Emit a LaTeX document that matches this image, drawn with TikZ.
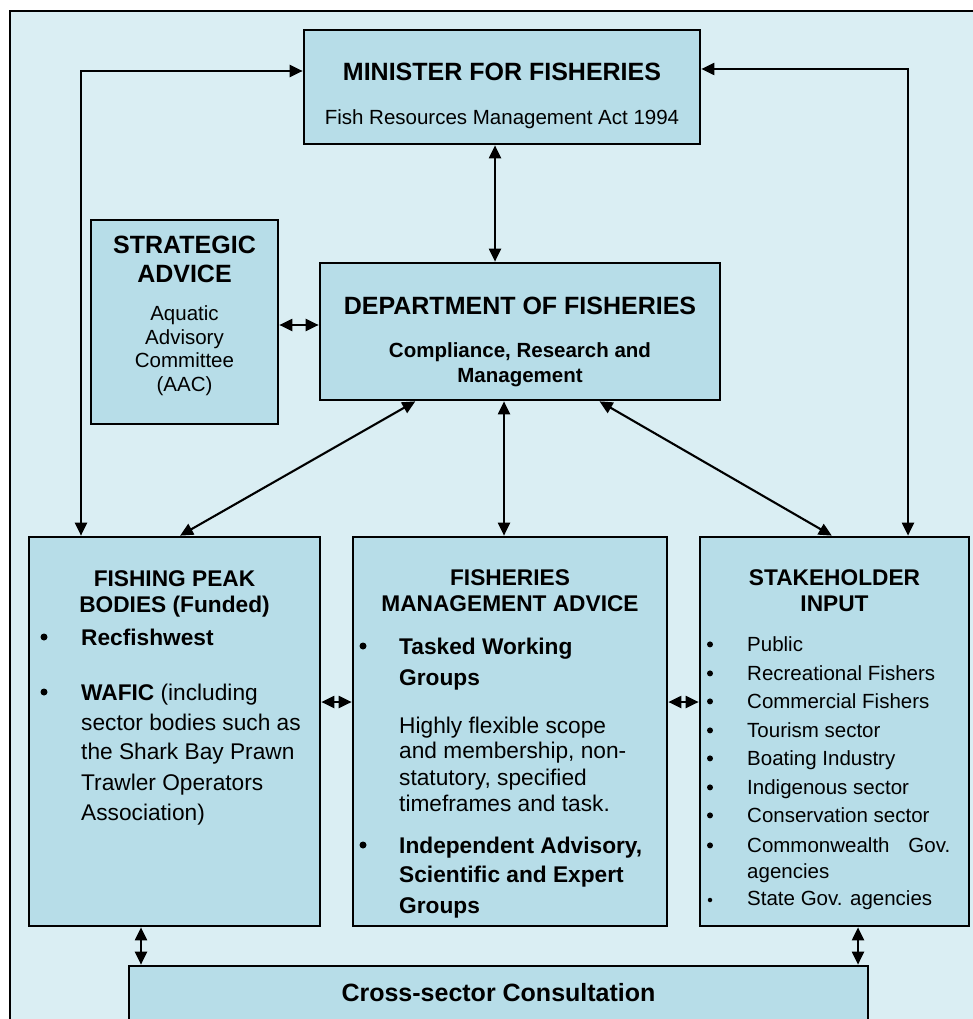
\documentclass[tikz,border=0pt]{standalone}
\usepackage{fontspec}
\setmainfont{Liberation Sans}
\usetikzlibrary{arrows.meta,calc}
\definecolor{bgc}{HTML}{DAEEF3}
\definecolor{boxc}{HTML}{B7DDE8}
\newcommand\ftitle{\fontsize{25}{30}\selectfont\bfseries}
\newcommand\fhead{\fontsize{22.7}{28}\selectfont\bfseries}
\newcommand\fbig{\fontsize{22.7}{28}\selectfont}
\newcommand\fsmall{\fontsize{20.5}{25}\selectfont}
\begin{document}
\begin{tikzpicture}[x=1pt,y=-1pt,
  box/.style={draw=black, line width=2.7pt, fill=boxc, inner sep=0pt, rectangle},
  ct/.style={inner sep=0pt, anchor=base},
  lt/.style={inner sep=0pt, anchor=base west},
  bulb/.style={circle, fill=black, inner sep=0pt, minimum size=7pt},
  buls/.style={circle, fill=black, inner sep=0pt, minimum size=6pt},
  arr/.style={line width=2.1pt, {Triangle[length=13pt,width=12pt]}-{Triangle[length=13pt,width=12pt]}},
]
\useasboundingbox (0,0) rectangle (973,1019);
\clip (0,0) rectangle (973,1019);
\fill[white] (0,0) rectangle (973,1019);
\draw[line width=2.6pt, fill=bgc] (10,11) rectangle (1000,1050);

% boxes
\node[box, minimum width=396pt, minimum height=114pt] (min) at (502,87) {};
\node[box, minimum width=400pt, minimum height=137pt] (dept) at (520,331.5) {};
\node[box, minimum width=187pt, minimum height=204pt] (strat) at (184.5,322) {};
\node[box, minimum width=291pt, minimum height=389pt] (fish) at (174.5,731.5) {};
\node[box, minimum width=314pt, minimum height=389pt] (fma) at (510,731.5) {};
\node[box, minimum width=269pt, minimum height=389pt] (stake) at (834.5,731.5) {};
\node[box, minimum width=739pt, minimum height=94pt] (cross) at (498.5,1013) {};

% minister text
\node[ct, font=\ftitle] (m1) at (502,81) {MINISTER FOR FISHERIES};
\node[ct, font=\fsmall] (m2) at (502,124.4) {Fish Resources Management Act 1994};

% department text
\node[ct, font=\ftitle] (d1) at (520,314) {DEPARTMENT OF FISHERIES};
\node[ct, font=\fsmall\bfseries] (d2) at (520,357.4) {Compliance, Research and};
\node[ct, font=\fsmall\bfseries] (d3) at (520,382.4) {Management};

% strategic text
\node[ct, font=\ftitle] (s1) at (184.5,253) {STRATEGIC};
\node[ct, font=\ftitle] (s2) at (184.5,282) {ADVICE};
\node[ct, font=\fsmall] (s3) at (184.5,320.4) {Aquatic};
\node[ct, font=\fsmall] (s4) at (184.5,344.4) {Advisory};
\node[ct, font=\fsmall] (s5) at (184.5,367.4) {Committee};
\node[ct, font=\fsmall] (s6) at (184.5,391.4) {(AAC)};

% fishing peak bodies
\node[ct, font=\fhead] (f1) at (174.5,586.2) {FISHING PEAK};
\node[ct, font=\fhead] (f2) at (174.5,612.2) {BODIES (Funded)};
\node[bulb] (fb1) at (44,637) {};
\node[lt, font=\fhead] (f3) at (81,645.2) {Recfishwest};
\node[bulb] (fb2) at (44,692) {};
\node[lt, font=\fbig] (f4) at (81,700.2) {\textbf{WAFIC} (including};
\node[lt, font=\fbig] (f5) at (81,730.2) {sector bodies such as};
\node[lt, font=\fbig] (f6) at (81,759.2) {the Shark Bay Prawn};
\node[lt, font=\fbig] (f7) at (81,790.2) {Trawler Operators};
\node[lt, font=\fbig] (f8) at (81,820.2) {Association)};

% fisheries management advice
\node[ct, font=\fhead] (a1) at (510,585.2) {FISHERIES};
\node[ct, font=\fhead] (a2) at (510,611.2) {MANAGEMENT ADVICE};
\node[bulb] (ab1) at (363,646) {};
\node[lt, font=\fhead] (a3) at (399,654.2) {Tasked Working};
\node[lt, font=\fhead] (a4) at (399,685.2) {Groups};
\node[lt, font=\fbig] (a5) at (399,733.2) {Highly flexible scope};
\node[lt, font=\fbig] (a6) at (399,758.2) {and membership, non-};
\node[lt, font=\fbig] (a7) at (399,785.2) {statutory, specified};
\node[lt, font=\fbig] (a8) at (399,811.2) {timeframes and task.};
\node[bulb] (ab2) at (363,845) {};
\node[lt, font=\fhead] (a9) at (399,853.2) {Independent Advisory,};
\node[lt, font=\fhead] (a10) at (399,882.2) {Scientific and Expert};
\node[lt, font=\fhead] (a11) at (399,913.2) {Groups};

% stakeholder input
\node[ct, font=\fhead] (k1) at (834.5,585.2) {STAKEHOLDER};
\node[ct, font=\fhead] (k2) at (834.5,611.2) {INPUT};
\foreach \i/\yy/\t in {1/651.4/Public, 2/680.4/Recreational Fishers, 3/708.4/Commercial Fishers, 4/737.4/Tourism sector, 5/765.4/Boating Industry, 6/794.4/Indigenous sector, 7/822.4/Conservation sector}{
  \node[buls] (kb\i) at (710,\yy-7) {};
  \node[lt, font=\fsmall] (kt\i) at (747,\yy) {\t};
}
\node[buls] (kb8) at (710,845.4) {};
\node[lt, font=\fsmall] (kt8) at (747,852.4) {\makebox[203pt][s]{Commonwealth\hfill Gov.}};
\node[lt, font=\fsmall] (kt9) at (747,878.4) {agencies};
\node[buls, minimum size=4.5pt] (kb10) at (710,900) {};
\node[lt, font=\fsmall] (kt10) at (747,905.4) {State Gov. agencies};

% cross-sector
\node[ct, font=\ftitle] (c1) at (498.5,1001) {Cross-sector Consultation};

% connectors
\coordinate (lx) at (81,71);
\coordinate (rx) at (908,69);
\draw[arr] (lx |- fish.north) -- (lx) -- (lx -| min.west);
\draw[arr] (rx |- stake.north) -- (rx) -- (rx -| min.east);
\coordinate (mdx) at (495,200);
\draw[arr] (mdx |- min.south) -- (mdx |- dept.north);
\coordinate (sdy) at (300,325);
\draw[arr] (sdy -| strat.east) -- (sdy -| dept.west);
\draw[arr] ($(dept.south west)!0.24!(dept.south east)$) -- ($(fish.north west)!0.519!(fish.north east)$);
\coordinate (mx) at (504,470);
\draw[arr] (mx |- dept.south) -- (mx |- fma.north);
\draw[arr] ($(dept.south west)!0.6975!(dept.south east)$) -- ($(stake.north west)!0.49!(stake.north east)$);
\coordinate (hy) at (500,702);
\draw[arr] (hy -| fish.east) -- (hy -| fma.west);
\draw[arr] (hy -| fma.east) -- (hy -| stake.west);
\coordinate (bl) at (141,946);
\coordinate (br) at (858,946);
\draw[arr] (bl |- fish.south) -- (bl |- cross.north);
\draw[arr] (br |- stake.south) -- (br |- cross.north);
\end{tikzpicture}
\end{document}
